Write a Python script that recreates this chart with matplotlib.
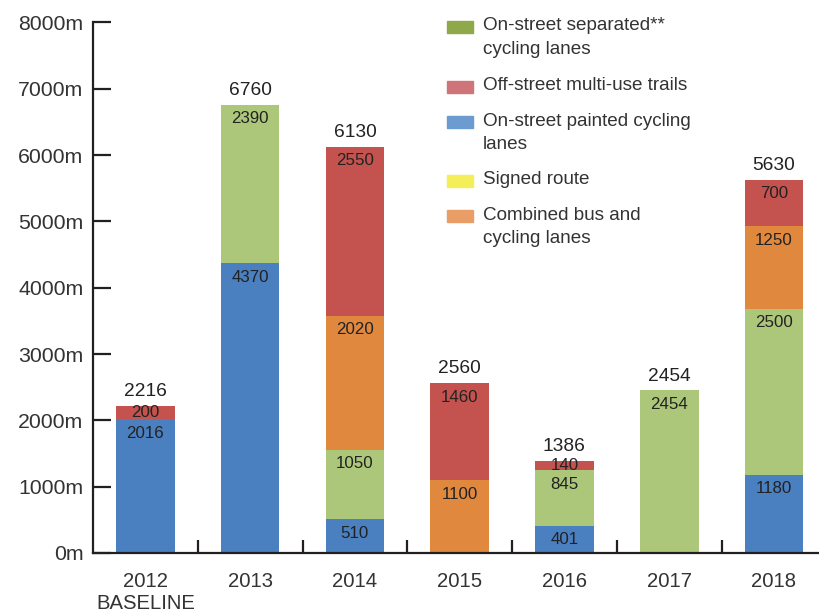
import numpy as np
import matplotlib.pyplot as plt
from matplotlib.patches import Rectangle

plt.rcParams['font.family'] = ['Liberation Sans', 'DejaVu Sans']

years = ['2012\nBASELINE', '2013', '2014', '2015', '2016', '2017', '2018']
painted = [2016, 4370, 510, 0, 401, 0, 1180]
separated = [0, 2390, 1050, 0, 845, 2454, 2500]
combined_bus = [0, 0, 2020, 1100, 0, 0, 1250]
off_street = [200, 0, 2550, 1460, 140, 0, 700]

# stacking order bottom -> top, bar colours
series = [
    (painted, '#4a7fc0'),
    (separated, '#adc77a'),
    (combined_bus, '#e0883e'),
    (off_street, '#c4524f'),
]

legend_labels = ['On-street separated**\ncycling lanes',
                 'Off-street multi-use trails',
                 'On-street painted cycling\nlanes',
                 'Signed route',
                 'Combined bus and\ncycling lanes']
legend_colors = ['#8fa84a', '#cf7478', '#6c9bd0', '#f4ee58', '#e89e66']

W, H = 819, 614
fig = plt.figure(figsize=(W / 100, H / 100), dpi=100)
ax = fig.add_axes([93 / W, 61 / H, (W - 93) / W, (553 - 22.5) / H])

x = np.arange(len(years))
bottom = np.zeros(len(years))
txt = '#222222'
for vals, col in series:
    vals = np.array(vals, dtype=float)
    ax.bar(x, vals, 0.56, bottom=bottom, color=col, linewidth=0, zorder=2)
    for xi, v, b in zip(x, vals, bottom):
        if v <= 0:
            continue
        top = b + v
        y_lab = max(top - 211, b + v / 2)
        ax.text(xi, y_lab, f'{int(v)}', ha='center', va='center',
                fontsize=12.2, color=txt, zorder=3)
    bottom += vals

for xi, tot in zip(x, bottom):
    ax.text(xi, tot + 215, f'{int(tot)}', ha='center', va='center',
            fontsize=13.8, color=txt)

ax.set_ylim(0, 8000)
ax.set_xlim(-0.5, 6.43)
ax.set_yticks(np.arange(0, 8001, 1000))
ax.set_yticklabels([f'{v}m' for v in range(0, 8001, 1000)])
ax.set_xticks(x)
ax.set_xticklabels(years, linespacing=1.2)
ax.set_xticks(x[:-1] + 0.5, minor=True)

for s in ['top', 'right']:
    ax.spines[s].set_visible(False)
for s in ['left', 'bottom']:
    ax.spines[s].set_color('#231f20')
    ax.spines[s].set_linewidth(1.6)

ax.tick_params(axis='y', direction='in', length=13, width=1.6, color='#231f20',
               labelsize=15.3, labelcolor='#333333', pad=7)
ax.tick_params(axis='x', which='major', length=0, labelsize=14.6,
               labelcolor='#333333', pad=14)
ax.tick_params(axis='x', which='minor', direction='in', length=9.5, width=1.6,
               color='#231f20')

# legend drawn by hand so the swatch lines up with the first text line
item_tops = [21, 81, 116, 175, 210]
for lab, col, ty in zip(legend_labels, legend_colors, item_tops):
    fig.patches.append(Rectangle((447 / W, 1 - (ty + 12) / H), 26 / W, 12 / H,
                                 transform=fig.transFigure, color=col))
    for i, line in enumerate(lab.split('\n')):
        fig.text(483 / W, 1 - (ty - 3.5 + i * 23.5) / H, line, ha='left', va='top',
                 fontsize=13.6, color='#333333')

fig.savefig('out.png', dpi=100)
